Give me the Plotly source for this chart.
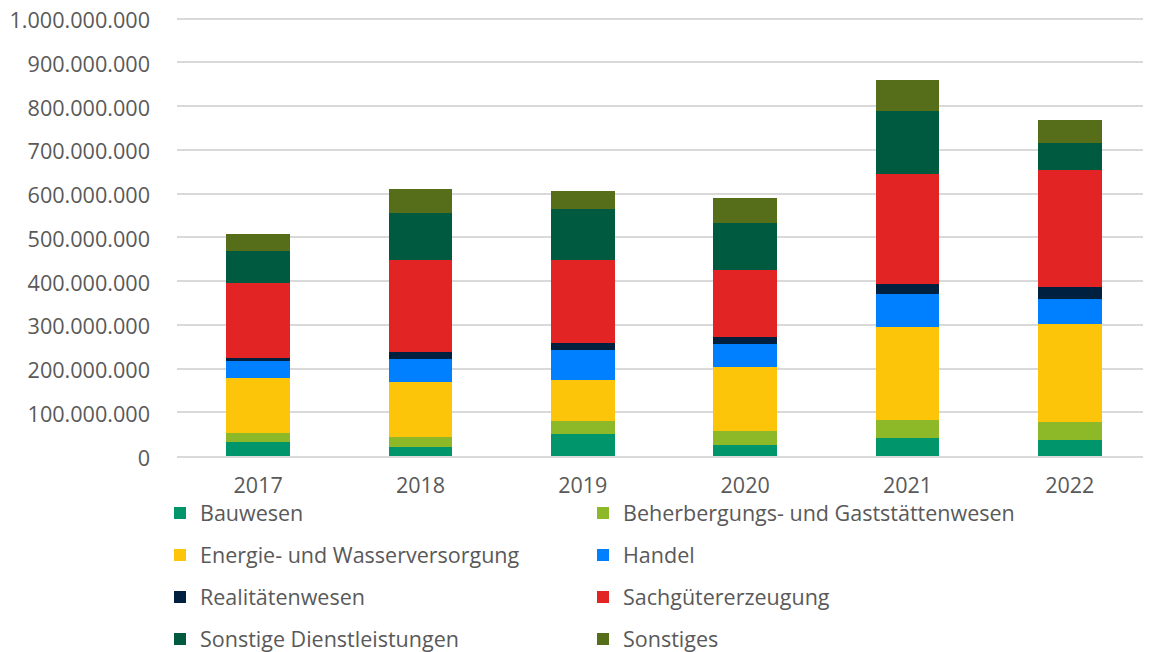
import plotly.graph_objects as go

years = ["2017", "2018", "2019", "2020", "2021", "2022"]

bauwesen = [31e6, 20e6, 51e6, 24.5e6, 40.5e6, 36e6]
beherbergung = [21e6, 24e6, 30e6, 32e6, 42.5e6, 42.5e6]
energie = [127e6, 126e6, 93e6, 147.5e6, 212e6, 223e6]
handel = [38e6, 52e6, 68.6e6, 52e6, 75e6, 57e6]
realitaeten = [8e6, 16e6, 16e6, 16e6, 23e6, 29e6]
sachgueter = [170e6, 210.5e6, 190e6, 153.6e6, 251.6e6, 266.4e6]
sonst_dienst = [74e6, 107.5e6, 116.5e6, 107.4e6, 145e6, 61e6]
sonstiges = [39e6, 54e6, 41e6, 57e6, 70.5e6, 52.5e6]

names = ["Bauwesen", "Beherbergungs- und Gaststättenwesen", "Energie- und Wasserversorgung",
         "Handel", "Realitätenwesen", "Sachgütererzeugung", "Sonstige Dienstleistungen", "Sonstiges"]
series = [bauwesen, beherbergung, energie, handel, realitaeten, sachgueter, sonst_dienst, sonstiges]
colors = ["#00956A", "#8DB828", "#FDC50A", "#0080FF", "#00203F", "#E22424", "#005A40", "#566E1A"]

# page has an 8px body margin; figure coordinates = page coordinates - 8
OFF = 8
W, H = 1143, 644
YMAX = 1.004e9
PX_PER_UNIT = 437 / 1e9

FONT = "Open Sans"
fig = go.Figure()
legend_keys = ["legend" if i == 0 else f"legend{i + 1}" for i in range(len(names))]
for name, vals, col, lg in zip(names, series, colors, legend_keys):
    fig.add_trace(go.Bar(x=years, y=vals, name=name, marker=dict(color=col, line=dict(width=0)),
                         legend=lg, showlegend=True))

rows_page = [513, 555, 597, 639]
cols_page = [160, 583]
leg_layout = {}
for i, key in enumerate(legend_keys):
    r, c = divmod(i, 2)
    leg_layout[key] = dict(orientation="v", xanchor="left", yanchor="middle",
                           x=(cols_page[c] - OFF) / W, y=1 - (rows_page[r] - OFF) / H,
                           xref="container", yref="container",
                           font=dict(family=FONT, size=21.5, color="#595959"),
                           bgcolor="rgba(0,0,0,0)", itemclick=False)

plot_h = PX_PER_UNIT * YMAX
fig.update_layout(
    width=W, height=H,
    showlegend=True,
    barmode="stack", bargap=0.606,
    paper_bgcolor="white", plot_bgcolor="white",
    margin=dict(l=177 - OFF, r=0, t=(456 - OFF) - plot_h, b=H - (456 - OFF), autoexpand=False),
    separators=",.",
    font=dict(family=FONT, size=21.5, color="#595959"),
    xaxis=dict(showgrid=False, showline=True, linecolor="#d9d9d9", linewidth=1.5,
               ticks="", ticklabelstandoff=9,
               tickfont=dict(family=FONT, size=21.5, color="#595959")),
    yaxis=dict(range=[0, YMAX], dtick=1e8, tick0=0, tickformat=",d",
               showgrid=True, gridcolor="#d9d9d9", gridwidth=1.5,
               zeroline=False, showline=False, ticks="", ticklabelstandoff=26,
               ticklabeloverflow="allow", ticklabelshift=2,
               tickfont=dict(family=FONT, size=21.6, color="#595959")),
    **leg_layout,
)

fig.write_html("out.html")
